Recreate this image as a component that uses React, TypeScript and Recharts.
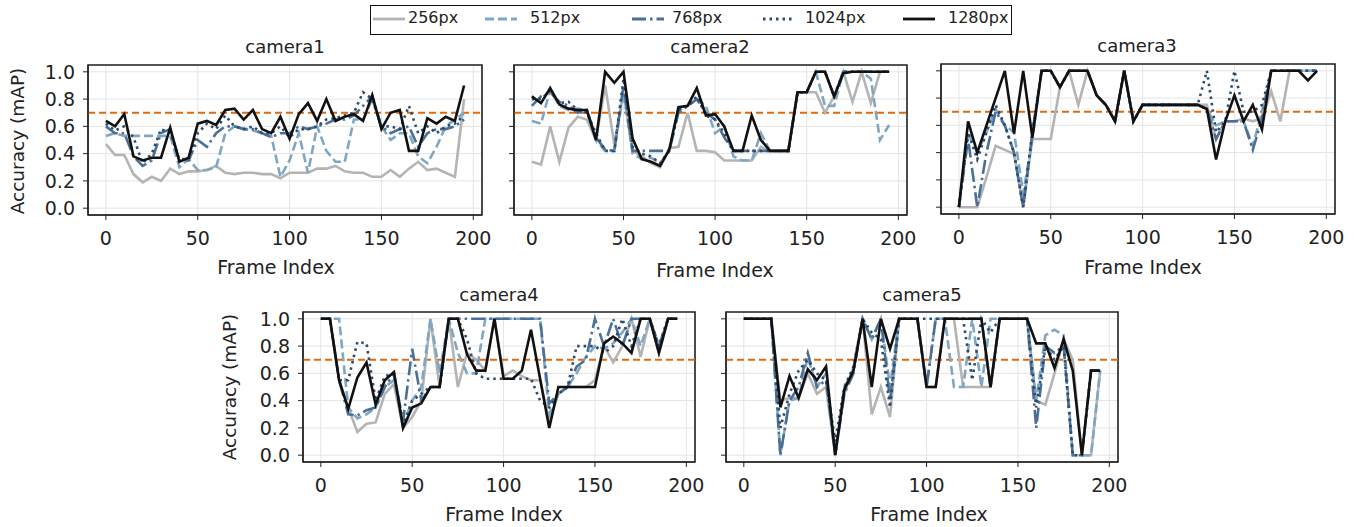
import React from 'react'
import { CartesianGrid, Line, LineChart, ReferenceArea, ReferenceLine, XAxis, YAxis } from 'recharts'

const frames = [
  0, 5, 10, 15, 20, 25, 30, 35, 40, 45, 50, 55, 60, 65, 70, 75, 80, 85, 90, 95,
  100, 105, 110, 115, 120, 125, 130, 135, 140, 145, 150, 155, 160, 165, 170, 175, 180, 185, 190, 195,
]

const xTicks = [0, 50, 100, 150, 200]
const yTicks = [0, 0.2, 0.4, 0.6, 0.8, 1.0]
const threshold = 0.7

// camera1
const cam1_256 = [0.47, 0.39, 0.39, 0.25, 0.19, 0.23, 0.20, 0.29, 0.25, 0.27, 0.27, 0.28, 0.31, 0.26, 0.25, 0.26, 0.26, 0.25, 0.25, 0.22, 0.26, 0.26, 0.26, 0.29, 0.29, 0.31, 0.27, 0.26, 0.26, 0.23, 0.23, 0.28, 0.23, 0.29, 0.34, 0.28, 0.29, 0.26, 0.23, 0.80]
const cam1_512 = [0.53, 0.55, 0.53, 0.53, 0.53, 0.53, 0.53, 0.53, 0.30, 0.36, 0.28, 0.28, 0.30, 0.55, 0.60, 0.58, 0.57, 0.55, 0.53, 0.23, 0.35, 0.55, 0.26, 0.60, 0.42, 0.34, 0.34, 0.65, 0.65, 0.80, 0.60, 0.50, 0.55, 0.55, 0.38, 0.33, 0.45, 0.60, 0.65, 0.70]
const cam1_768 = [0.60, 0.55, 0.55, 0.38, 0.31, 0.35, 0.55, 0.58, 0.35, 0.35, 0.50, 0.45, 0.55, 0.60, 0.60, 0.58, 0.58, 0.55, 0.52, 0.55, 0.55, 0.60, 0.58, 0.60, 0.62, 0.65, 0.65, 0.68, 0.75, 0.82, 0.60, 0.55, 0.58, 0.60, 0.45, 0.55, 0.58, 0.58, 0.60, 0.65]
const cam1_1024 = [0.62, 0.57, 0.60, 0.52, 0.33, 0.40, 0.58, 0.55, 0.36, 0.36, 0.55, 0.62, 0.58, 0.68, 0.60, 0.58, 0.60, 0.55, 0.55, 0.60, 0.52, 0.58, 0.58, 0.60, 0.65, 0.66, 0.68, 0.70, 0.85, 0.80, 0.60, 0.60, 0.58, 0.75, 0.55, 0.60, 0.55, 0.60, 0.62, 0.68]
const cam1_1280 = [0.64, 0.60, 0.69, 0.38, 0.35, 0.37, 0.37, 0.59, 0.34, 0.37, 0.62, 0.64, 0.61, 0.72, 0.73, 0.65, 0.72, 0.58, 0.55, 0.67, 0.51, 0.69, 0.77, 0.64, 0.80, 0.64, 0.67, 0.69, 0.64, 0.83, 0.58, 0.70, 0.72, 0.42, 0.42, 0.66, 0.62, 0.67, 0.64, 0.90]

// camera2
const cam2_256 = [0.34, 0.32, 0.60, 0.34, 0.59, 0.67, 0.65, 0.50, 0.90, 0.47, 0.85, 0.42, 0.38, 0.33, 0.30, 0.44, 0.45, 0.70, 0.42, 0.42, 0.41, 0.35, 0.35, 0.35, 0.35, 0.45, 0.42, 0.42, 0.42, 0.85, 0.85, 0.85, 0.70, 0.82, 1.0, 0.78, 1.0, 0.77, 1.0, 1.0]
const cam2_512 = [0.64, 0.62, 0.87, 0.75, 0.72, 0.73, 0.72, 0.50, 0.42, 0.42, 0.85, 0.40, 0.36, 0.37, 0.33, 0.42, 0.72, 0.75, 0.80, 0.75, 0.55, 0.60, 0.38, 0.35, 0.35, 0.55, 0.42, 0.42, 0.42, 0.85, 0.85, 1.0, 0.75, 0.75, 1.0, 1.0, 1.0, 0.95, 0.50, 0.61]
const cam2_768 = [0.75, 0.82, 0.85, 0.78, 0.75, 0.70, 0.72, 0.52, 0.43, 0.42, 0.90, 0.42, 0.42, 0.42, 0.42, 0.42, 0.70, 0.75, 0.80, 0.70, 0.65, 0.52, 0.42, 0.42, 0.42, 0.42, 0.42, 0.42, 0.42, 0.85, 0.85, 1.0, 1.0, 0.82, 1.0, 1.0, 1.0, 1.0, 1.0, 1.0]
const cam2_1024 = [0.80, 0.80, 0.86, 0.77, 0.78, 0.72, 0.70, 0.55, 0.42, 0.42, 0.95, 0.45, 0.40, 0.38, 0.33, 0.42, 0.72, 0.75, 0.82, 0.68, 0.65, 0.55, 0.42, 0.42, 0.42, 0.42, 0.42, 0.42, 0.42, 0.85, 0.85, 1.0, 1.0, 0.82, 1.0, 1.0, 1.0, 1.0, 1.0, 1.0]
const cam2_1280 = [0.82, 0.77, 0.88, 0.76, 0.73, 0.72, 0.72, 0.50, 1.0, 0.92, 1.0, 0.51, 0.36, 0.34, 0.31, 0.43, 0.74, 0.75, 0.88, 0.68, 0.69, 0.60, 0.42, 0.42, 0.68, 0.50, 0.42, 0.42, 0.42, 0.85, 0.85, 1.0, 1.0, 0.82, 0.99, 1.0, 1.0, 1.0, 1.0, 1.0]

// camera3
const cam3_256 = [0.0, 0.0, 0.0, 0.22, 0.45, 0.42, 0.39, 0.0, 0.50, 0.50, 0.50, 0.88, 1.0, 0.75, 1.0, 0.82, 0.75, 0.63, 1.0, 0.63, 0.75, 0.75, 0.75, 0.75, 0.75, 0.75, 0.75, 0.75, 0.50, 0.63, 0.63, 0.65, 0.63, 0.65, 0.85, 0.63, 1.0, 1.0, 1.0, 1.0]
const cam3_512 = [0.0, 0.55, 0.40, 0.55, 0.72, 0.60, 0.55, 0.10, 0.50, 1.0, 1.0, 0.88, 1.0, 1.0, 1.0, 0.82, 0.75, 0.63, 1.0, 0.63, 0.75, 0.75, 0.75, 0.75, 0.75, 0.75, 0.75, 0.72, 0.60, 0.63, 0.63, 0.63, 0.45, 0.70, 1.0, 1.0, 1.0, 1.0, 1.0, 1.0]
const cam3_768 = [0.0, 0.50, 0.0, 0.40, 0.70, 0.60, 0.40, 0.0, 0.55, 1.0, 1.0, 0.88, 1.0, 1.0, 1.0, 0.82, 0.75, 0.63, 1.0, 0.63, 0.75, 0.75, 0.75, 0.75, 0.75, 0.75, 0.75, 0.72, 0.50, 0.63, 0.63, 0.63, 0.42, 0.65, 1.0, 1.0, 1.0, 1.0, 1.0, 1.0]
const cam3_1024 = [0.0, 0.55, 0.35, 0.55, 0.75, 0.60, 0.40, 0.0, 0.55, 1.0, 1.0, 0.88, 1.0, 1.0, 1.0, 0.82, 0.75, 0.63, 1.0, 0.63, 0.75, 0.75, 0.75, 0.75, 0.75, 0.75, 0.75, 1.0, 0.55, 0.63, 1.0, 0.70, 0.70, 0.75, 1.0, 1.0, 1.0, 1.0, 1.0, 1.0]
const cam3_1280 = [0.0, 0.63, 0.40, 0.60, 0.80, 1.0, 0.54, 1.0, 0.51, 1.0, 1.0, 0.88, 1.0, 1.0, 1.0, 0.82, 0.75, 0.63, 1.0, 0.63, 0.75, 0.75, 0.75, 0.75, 0.75, 0.75, 0.75, 0.72, 0.35, 0.63, 0.82, 0.63, 0.75, 0.57, 1.0, 1.0, 1.0, 1.0, 0.93, 1.0]

// camera4
const cam4_256 = [1.0, 1.0, 0.55, 0.35, 0.17, 0.23, 0.24, 0.45, 0.52, 0.20, 0.28, 0.40, 1.0, 0.50, 1.0, 0.50, 0.75, 0.70, 0.62, 1.0, 0.58, 0.62, 0.58, 0.55, 0.55, 0.25, 0.45, 0.50, 0.50, 0.50, 0.55, 0.80, 0.68, 0.80, 1.0, 0.72, 1.0, 0.75, 1.0, 1.0]
const cam4_512 = [1.0, 1.0, 1.0, 0.35, 0.27, 0.30, 0.35, 0.50, 0.55, 0.22, 0.40, 0.50, 1.0, 0.60, 1.0, 0.75, 0.60, 0.60, 1.0, 1.0, 1.0, 1.0, 1.0, 1.0, 1.0, 0.30, 0.45, 0.50, 0.60, 0.72, 0.80, 0.78, 0.82, 0.90, 1.0, 0.80, 1.0, 0.80, 1.0, 1.0]
const cam4_768 = [1.0, 1.0, 0.55, 0.30, 0.29, 0.33, 0.35, 0.50, 0.60, 0.25, 0.78, 0.40, 0.50, 0.50, 1.0, 1.0, 1.0, 1.0, 1.0, 1.0, 1.0, 1.0, 1.0, 1.0, 1.0, 0.38, 0.45, 0.50, 0.65, 0.70, 1.0, 0.80, 1.0, 0.80, 1.0, 1.0, 1.0, 0.80, 1.0, 1.0]
const cam4_1024 = [1.0, 1.0, 0.55, 0.55, 0.83, 0.82, 0.40, 0.58, 0.60, 0.22, 0.40, 0.45, 0.50, 0.50, 1.0, 1.0, 0.85, 0.60, 0.56, 0.56, 0.56, 0.56, 0.56, 0.56, 0.40, 0.35, 0.45, 0.50, 0.80, 0.80, 0.80, 0.75, 0.80, 1.0, 0.80, 1.0, 1.0, 0.80, 1.0, 1.0]
const cam4_1280 = [1.0, 1.0, 0.55, 0.34, 0.57, 0.68, 0.37, 0.55, 0.61, 0.20, 0.35, 0.38, 0.50, 0.50, 1.0, 1.0, 0.74, 0.62, 0.62, 1.0, 0.56, 0.56, 0.62, 0.92, 0.56, 0.20, 0.50, 0.50, 0.50, 0.50, 0.50, 0.82, 0.87, 0.82, 0.75, 1.0, 1.0, 0.75, 1.0, 1.0]

// camera5
const cam5_256 = [1.0, 1.0, 1.0, 1.0, 0.40, 0.42, 0.42, 0.60, 0.45, 0.50, 0.0, 0.45, 0.65, 1.0, 0.30, 0.50, 0.28, 1.0, 1.0, 1.0, 0.50, 0.50, 1.0, 1.0, 0.50, 0.50, 0.50, 0.50, 1.0, 1.0, 1.0, 1.0, 0.40, 0.37, 0.60, 0.85, 0.70, 0.0, 0.0, 0.62]
const cam5_512 = [1.0, 1.0, 1.0, 1.0, 0.0, 0.40, 0.42, 0.72, 0.50, 0.60, 0.0, 0.50, 0.62, 1.0, 0.85, 1.0, 0.50, 1.0, 1.0, 1.0, 0.50, 1.0, 1.0, 0.50, 0.50, 1.0, 0.50, 1.0, 1.0, 1.0, 1.0, 1.0, 0.40, 0.88, 0.92, 0.88, 0.0, 0.0, 0.0, 0.62]
const cam5_768 = [1.0, 1.0, 1.0, 1.0, 0.0, 0.40, 0.50, 0.75, 0.50, 0.55, 0.0, 0.45, 0.60, 1.0, 0.85, 1.0, 0.40, 1.0, 1.0, 1.0, 0.50, 1.0, 1.0, 1.0, 1.0, 1.0, 1.0, 0.50, 1.0, 1.0, 1.0, 1.0, 0.20, 0.80, 0.75, 0.80, 0.0, 0.0, 0.62, 0.62]
const cam5_1024 = [1.0, 1.0, 1.0, 1.0, 0.20, 0.45, 0.62, 0.70, 0.60, 0.55, 0.10, 0.50, 0.65, 1.0, 0.90, 0.85, 0.35, 1.0, 1.0, 1.0, 1.0, 1.0, 1.0, 1.0, 1.0, 0.55, 1.0, 0.90, 1.0, 1.0, 1.0, 1.0, 0.35, 0.80, 0.70, 0.80, 0.0, 0.0, 0.62, 0.62]
const cam5_1280 = [1.0, 1.0, 1.0, 1.0, 0.35, 0.58, 0.42, 0.63, 0.55, 0.65, 0.0, 0.48, 0.62, 1.0, 0.50, 1.0, 0.78, 1.0, 1.0, 1.0, 0.50, 0.50, 1.0, 1.0, 1.0, 1.0, 1.0, 0.50, 1.0, 1.0, 1.0, 1.0, 0.82, 0.82, 0.64, 0.85, 0.62, 0.0, 0.62, 0.62]

const FONT = '"DejaVu Sans", sans-serif'

// стили серий: как в matplotlib — solid / dashed / dashdot / dotted / solid
const SERIES = [
  { key: 'r256', name: '256px', color: '#b4b4b4', dash: undefined },
  { key: 'r512', name: '512px', color: '#7fa7c3', dash: '9 4' },
  { key: 'r768', name: '768px', color: '#4b6f95', dash: '14 4 2.5 4' },
  { key: 'r1024', name: '1024px', color: '#2b4c6f', dash: '2.5 4' },
  { key: 'r1280', name: '1280px', color: '#111111', dash: undefined },
]

interface Box {
  left: number
  top: number
  right: number
  bottom: number
}

function buildRows(a: number[], b: number[], c: number[], d: number[], e: number[]) {
  return frames.map((f, i) => ({ frame: f, r256: a[i], r512: b[i], r768: c[i], r1024: d[i], r1280: e[i] }))
}

const X_DOMAIN: [number, number] = [-9.75, 204.75]
const Y_DOMAIN: [number, number] = [-0.05, 1.05]
const Y_W = 80
const X_H = 44
const M_R = 24
const M_T = 14

function Panel({ box, rows, showY }: { box: Box; rows: ReturnType<typeof buildRows>; showY: boolean }) {
  const w = box.right - box.left + Y_W + M_R
  const h = box.bottom - box.top + X_H + M_T
  const tickStyle = { fontSize: 19, fill: '#222', fontFamily: FONT }
  return (
    <div style={{ position: 'absolute', left: box.left - Y_W, top: box.top - M_T }}>
      <LineChart width={w} height={h} data={rows} margin={{ top: M_T, right: M_R, bottom: 0, left: 0 }}>
        <CartesianGrid stroke="#e4e4e4" strokeWidth={1} />
        <XAxis
          dataKey="frame"
          type="number"
          domain={X_DOMAIN}
          ticks={xTicks}
          height={X_H}
          tickSize={5}
          tickMargin={12}
          stroke="#222"
          tick={tickStyle}
          interval={0}
        />
        <YAxis
          type="number"
          domain={Y_DOMAIN}
          ticks={yTicks}
          width={Y_W}
          tickSize={5}
          tickMargin={8}
          stroke="#222"
          tick={tickStyle}
          interval={0}
          tickFormatter={(v: number) => (showY ? v.toFixed(1) : '')}
        />
        <ReferenceLine y={threshold} stroke="#e2690c" strokeWidth={1.8} strokeDasharray="7 4" />
        {SERIES.map((s) => (
          <Line
            key={s.key}
            type="linear"
            dataKey={s.key}
            stroke={s.color}
            strokeWidth={2.6}
            strokeDasharray={s.dash}
            dot={false}
            isAnimationActive={false}
            name={s.name}
          />
        ))}
        <ReferenceArea
          x1={X_DOMAIN[0]}
          x2={X_DOMAIN[1]}
          y1={Y_DOMAIN[0]}
          y2={Y_DOMAIN[1]}
          fill="none"
          stroke="#222"
          strokeWidth={1.6}
        />
      </LineChart>
    </div>
  )
}

function Text({ x, y, size, children, rotate }: { x: number; y: number; size: number; children: string; rotate?: boolean }) {
  return (
    <div
      style={{
        position: 'absolute',
        left: x,
        top: y,
        transform: `translate(-50%, -50%)${rotate ? ' rotate(-90deg)' : ''}`,
        fontSize: size,
        fontFamily: FONT,
        color: '#222',
        whiteSpace: 'nowrap',
        lineHeight: 1,
      }}
    >
      {children}
    </div>
  )
}

function LegendSample({ color, dash }: { color: string; dash?: string }) {
  return (
    <svg width={32} height={10} style={{ display: 'block' }}>
      <line x1={0} y1={5} x2={32} y2={5} stroke={color} strokeWidth={2.8} strokeDasharray={dash} />
    </svg>
  )
}

const legendPos = [
  { sx: 373, tx: 408 },
  { sx: 485, tx: 530 },
  { sx: 632, tx: 672 },
  { sx: 763, tx: 805 },
  { sx: 903, tx: 948 },
]

export default function App() {
  const panels = [
    { title: 'camera1', box: { left: 88, top: 65, right: 482, bottom: 215 }, rows: buildRows(cam1_256, cam1_512, cam1_768, cam1_1024, cam1_1280), showY: true, tx: 285, ty: 47, lx: 276, ly: 267 },
    { title: 'camera2', box: { left: 514, top: 65, right: 907, bottom: 215 }, rows: buildRows(cam2_256, cam2_512, cam2_768, cam2_1024, cam2_1280), showY: false, tx: 710, ty: 47, lx: 715, ly: 270 },
    { title: 'camera3', box: { left: 941, top: 64, right: 1335, bottom: 214 }, rows: buildRows(cam3_256, cam3_512, cam3_768, cam3_1024, cam3_1280), showY: false, tx: 1137, ty: 46, lx: 1143, ly: 267 },
    { title: 'camera4', box: { left: 303, top: 312, right: 695, bottom: 462 }, rows: buildRows(cam4_256, cam4_512, cam4_768, cam4_1024, cam4_1280), showY: true, tx: 499, ty: 295, lx: 504, ly: 514 },
    { title: 'camera5', box: { left: 726, top: 312, right: 1118, bottom: 462 }, rows: buildRows(cam5_256, cam5_512, cam5_768, cam5_1024, cam5_1280), showY: false, tx: 922, ty: 295, lx: 929, ly: 514 },
  ]

  return (
    <div style={{ position: 'absolute', left: 0, top: 0, width: 1369, height: 527, background: '#fff', overflow: 'hidden', fontFamily: FONT }}>
      {panels.map((p) => (
        <React.Fragment key={p.title}>
          <Panel box={p.box} rows={p.rows} showY={p.showY} />
          <Text x={p.tx} y={p.ty} size={18}>{p.title}</Text>
          <Text x={p.lx} y={p.ly} size={19}>Frame Index</Text>
        </React.Fragment>
      ))}
      <Text x={18} y={141} size={18.5} rotate>Accuracy (mAP)</Text>
      <Text x={230} y={387} size={18.5} rotate>Accuracy (mAP)</Text>

      <div style={{ position: 'absolute', left: 370, top: 5, width: 640, height: 28, border: '1.5px solid #111' }} />
      {SERIES.map((s, i) => (
        <React.Fragment key={s.key}>
          <div style={{ position: 'absolute', left: legendPos[i].sx, top: 14 }}>
            <LegendSample color={s.color} dash={s.dash} />
          </div>
          <div style={{ position: 'absolute', left: legendPos[i].tx, top: 10, fontSize: 16, fontFamily: FONT, color: '#222', lineHeight: 1 }}>
            {s.name}
          </div>
        </React.Fragment>
      ))}
    </div>
  )
}
